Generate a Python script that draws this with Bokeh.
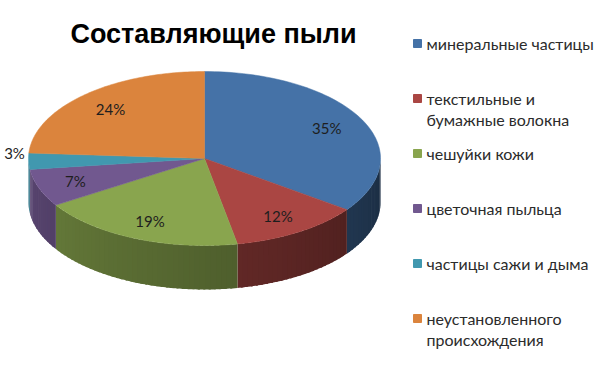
import numpy as np
from bokeh.plotting import figure
from bokeh.models import Range1d
from bokeh.core.properties import value
from bokeh.embed import file_html
from bokeh.resources import INLINE

# ---- data ----
title_text = "Составляющие пыли"
categories = [
    "минеральные частицы",
    "текстильные и\nбумажные волокна",
    "чешуйки кожи",
    "цветочная пыльца",
    "частицы сажи и дыма",
    "неустановленного\nпроисхождения",
]
shares = [35, 12, 19, 7, 3, 24]
colors = ["#4572A7", "#AA4643", "#89A54E", "#71588F", "#4198AF", "#DB843D"]

# ---- geometry (screen-pixel data space) ----
cx, cy, a, b, depth = 204, 158, 176, 87, 44
total = float(sum(shares))
fr = np.cumsum([0] + shares) / total
th0 = 2 * np.pi * fr[:-1]
th1 = 2 * np.pi * fr[1:]


def ex(t):
    return cx + a * np.sin(t)


def ey(t):
    return cy - b * np.cos(t)


def shade(hexc, f):
    h = hexc.lstrip("#")
    r, g, bb = (int(h[i:i + 2], 16) for i in (0, 2, 4))
    return "#%02x%02x%02x" % (min(255, int(r * f)), min(255, int(g * f)), min(255, int(bb * f)))


p = figure(width=600, height=367, x_range=Range1d(0, 600), y_range=Range1d(367, 0),
           toolbar_location=None, output_backend="svg", min_border=0)
p.axis.visible = False
p.grid.visible = False
p.outline_line_color = None
p.background_fill_color = "white"

# side walls (front half, pi/2 .. 3pi/2), drawn as overlapping shaded strips
wx, wy, wc = [], [], []
for i in range(len(shares)):
    lo, hi = max(th0[i], np.pi / 2), min(th1[i], 3 * np.pi / 2)
    if hi <= lo:
        continue
    n = max(2, int((hi - lo) / 0.03))
    edges = np.linspace(lo, hi, n + 1)
    for k in range(n):
        e1 = edges[k + 1] + (0.012 if k < n - 1 else 0.0)
        t = np.linspace(edges[k], e1, 4)
        xs = list(ex(t)) + list(ex(t[::-1]))
        ys = list(ey(t)) + list(ey(t[::-1]) + depth)
        mid = 0.5 * (edges[k] + edges[k + 1])
        f = 0.40 + 0.40 * (mid - np.pi / 2) / np.pi
        wx.append(xs)
        wy.append(ys)
        wc.append(shade(colors[i], f))
p.patches(wx, wy, fill_color=wc, line_color=None)

# top faces
tx, ty = [], []
for i in range(len(shares)):
    t = np.linspace(th0[i], th1[i], 80)
    tx.append([cx] + list(ex(t)))
    ty.append([cy] + list(ey(t)))
p.patches(tx, ty, fill_color=colors, line_color=colors, line_width=0.5)

# percentage labels
lx, ly, lt = [], [], []
for i, v in enumerate(shares):
    m = 0.5 * (th0[i] + th1[i])
    r = 1.08 if v < 5 else 0.78
    lx.append(cx + a * r * np.sin(m))
    ly.append(cy - b * r * np.cos(m) + (-8 if v < 5 else 0))
    lt.append(f"{v}%")
p.text(lx, ly, text=lt, text_align="center", text_baseline="middle",
       text_font=value("Lato"), text_font_size="15px", text_color="#1e1e1e")

# title
p.text([213], [33], text=[title_text], text_align="center", text_baseline="middle",
       text_font=value("Liberation Sans"), text_font_style="bold",
       text_font_size="27px", text_color="#000000")

# legend
leg_x, leg_y0, leg_step, line_h = 417, 43, 55, 21
sq_x, sq_y, txt_x, txt_y, txt_s = [], [], [], [], []
for i, cat in enumerate(categories):
    y0 = leg_y0 + leg_step * i
    sq_x.append(leg_x)
    sq_y.append(y0)
    for j, line in enumerate(cat.split("\n")):
        txt_x.append(leg_x + 9)
        txt_y.append(y0 + j * line_h)
        txt_s.append(line)
p.scatter(sq_x, sq_y, marker="square", size=8, fill_color=colors, line_color=colors)
p.text(txt_x, txt_y, text=txt_s, text_align="left", text_baseline="middle",
       text_font=value("Lato"), text_font_size="16px", text_color="#2b2b2b")

open("out.html", "w").write(file_html(p, INLINE))
